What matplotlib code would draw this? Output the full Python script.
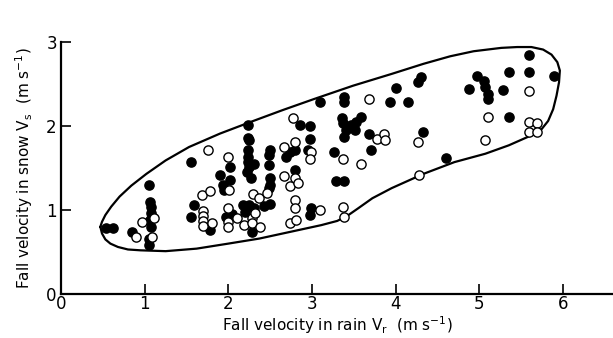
import matplotlib
matplotlib.use("Agg")
import matplotlib.pyplot as plt

# Filled circles (x = rain fall velocity, y = snow fall velocity), m/s
filled_x = [0.54, 0.62, 0.85, 1.05, 1.06, 1.07, 1.07, 1.06, 1.08, 1.05, 1.05,
            1.55, 1.59, 1.55, 1.78,
            1.90, 1.93, 1.95, 2.02, 2.02, 1.97, 2.04,
            2.24, 2.24, 2.25, 2.24, 2.24, 2.23, 2.25, 2.22, 2.27, 2.30,
            2.17, 2.25, 2.20, 2.30, 2.28,
            2.50, 2.48, 2.48, 2.50, 2.50, 2.49, 2.50, 2.42,
            2.69, 2.74, 2.86, 2.97, 2.80, 2.80,
            2.97, 2.95, 2.99, 2.97, 3.09,
            3.26, 3.28, 3.38, 3.38, 3.38, 3.36, 3.37, 3.38, 3.40, 3.51, 3.53,
            3.59, 3.46, 3.68, 3.70,
            4.00, 3.93, 4.15, 4.27, 4.30, 4.32, 4.60,
            4.88, 4.97, 5.05, 5.07, 5.10, 5.10, 5.28, 5.35, 5.35, 5.59, 5.59,
            5.89]
filled_y = [0.78, 0.79, 0.74, 1.30, 1.10, 1.04, 0.96, 0.88, 0.80, 0.58, 0.66,
            1.57, 1.06, 0.92, 0.76,
            1.42, 1.30, 1.24, 1.51, 1.36, 0.92, 0.95,
            2.01, 1.86, 1.83, 1.71, 1.63, 1.57, 1.51, 1.45, 1.38, 1.55,
            1.06, 1.06, 0.98, 1.02, 0.74,
            1.71, 1.65, 1.53, 1.38, 1.30, 1.26, 1.07, 1.05,
            1.63, 1.69, 2.01, 2.00, 1.71, 1.48,
            1.85, 1.71, 1.02, 0.94, 2.28,
            1.69, 1.34, 1.34, 2.34, 2.28, 2.09, 2.03, 1.87, 1.95, 1.95, 2.05,
            2.11, 2.01, 1.91, 1.71,
            2.45, 2.28, 2.28, 2.52, 2.58, 1.93, 1.62,
            2.44, 2.60, 2.54, 2.46, 2.38, 2.32, 2.43, 2.64, 2.11, 2.84, 2.64,
            2.60]

# Open circles
open_x = [0.90, 0.97, 1.11, 1.09,
          1.76, 1.69, 1.78, 1.70, 1.70, 1.70, 1.70, 1.80,
          2.00, 2.01, 1.99, 2.00, 2.00, 2.10, 2.19,
          2.29, 2.37, 2.28, 2.28, 2.38, 2.32, 2.46,
          2.67, 2.77, 2.79, 2.67, 2.74, 2.80, 2.83, 2.79, 2.79, 2.74, 2.81,
          2.99, 2.97, 3.09,
          3.37, 3.37, 3.38, 3.58, 3.68,
          3.78, 3.86, 3.87, 4.27, 4.28,
          5.10, 5.06, 5.59, 5.59, 5.69, 5.59, 5.69]
open_y = [0.68, 0.86, 0.91, 0.68,
          1.71, 1.18, 1.23, 0.99, 0.93, 0.87, 0.81, 0.84,
          1.63, 1.24, 1.02, 0.86, 0.80, 0.90, 0.82,
          1.19, 1.14, 0.90, 0.84, 0.80, 0.96, 1.20,
          1.75, 2.09, 1.81, 1.40, 1.28, 1.38, 1.32, 1.12, 1.02, 0.84, 0.88,
          1.69, 1.61, 1.00,
          1.61, 1.04, 0.92, 1.55, 2.32,
          1.85, 1.91, 1.83, 1.81, 1.42,
          2.11, 1.83, 2.42, 2.05, 2.03, 1.93, 1.93]

# Envelope enclosing the data (closed outline)
env_x = [0.47, 0.49, 0.53, 0.59, 0.68, 0.80, 0.95, 1.25, 1.62, 2.00, 2.37,
         2.74, 3.11, 3.30, 3.42, 3.55, 3.72, 3.95, 4.33, 4.70, 5.07, 5.35,
         5.60, 5.74, 5.82, 5.88, 5.92, 5.95, 5.96, 5.93, 5.86, 5.76, 5.62,
         5.45, 5.26, 4.93, 4.65, 4.33, 3.95, 3.49, 3.02, 2.65, 2.27, 1.90,
         1.53, 1.25, 1.02, 0.84, 0.70, 0.60, 0.53, 0.49, 0.47]
env_y = [0.80, 0.72, 0.65, 0.60, 0.56, 0.53, 0.52, 0.51, 0.54, 0.60, 0.66,
         0.74, 0.82, 0.87, 0.93, 1.02, 1.14, 1.26, 1.43, 1.57, 1.67, 1.77,
         1.88, 1.96, 2.06, 2.20, 2.36, 2.52, 2.66, 2.76, 2.85, 2.91, 2.94,
         2.94, 2.93, 2.89, 2.83, 2.74, 2.62, 2.48, 2.32, 2.19, 2.05, 1.91,
         1.75, 1.59, 1.43, 1.29, 1.16, 1.04, 0.94, 0.86, 0.80]

x_ticks = [0, 1, 2, 3, 4, 5, 6]
y_ticks = [0, 1, 2, 3]

fig = plt.figure(figsize=(6.13, 3.38), dpi=100)
ax = fig.add_axes([61 / 613, 44 / 338, 1 - 61 / 613, 252 / 338])

ax.plot(env_x, env_y, color="black", lw=1.6, solid_joinstyle="round",
        solid_capstyle="round")
ax.scatter(filled_x, filled_y, s=44, c="black", edgecolors="black",
           linewidths=1.0, zorder=3)
ax.scatter(open_x, open_y, s=44, facecolors="white", edgecolors="black",
           linewidths=1.0, zorder=3)

ax.set_xlim(0, (613 - 61) / 83.7)
ax.set_ylim(0, 3.0)
ax.set_xticks(x_ticks)
ax.set_yticks(y_ticks)
ax.set_xticklabels([str(t) for t in x_ticks])
ax.set_yticklabels([str(t) for t in y_ticks])
ax.tick_params(direction="in", length=7, width=1.2, labelsize=12)
ax.tick_params(axis="x", pad=1)
ax.tick_params(axis="y", pad=3)

for s in ["top", "right"]:
    ax.spines[s].set_visible(False)
for s in ["left", "bottom"]:
    ax.spines[s].set_linewidth(1.6)

ax.set_xlabel(r"Fall velocity in rain $\mathregular{V_r}$  (m s$^{\mathregular{-1}}$)",
              fontsize=11, labelpad=1)
ax.set_ylabel(r"Fall velocity in snow $\mathregular{V_s}$  (m s$^{\mathregular{-1}}$)",
              fontsize=11, labelpad=8)

fig.savefig("out.png", dpi=100)
